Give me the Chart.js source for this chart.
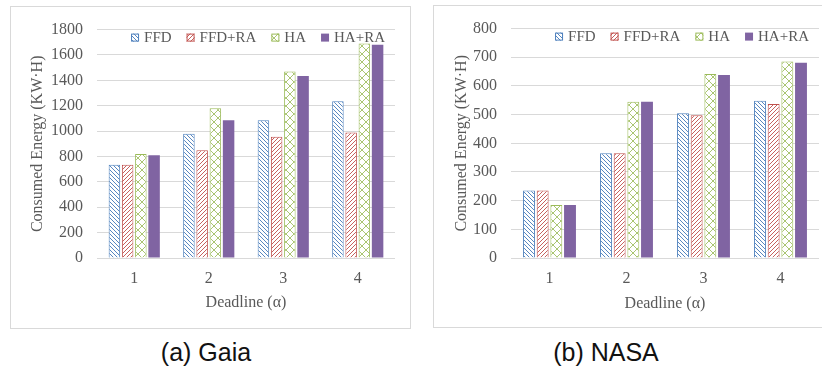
<!DOCTYPE html>
<html>
<head>
<meta charset="utf-8">
<script src="https://cdn.jsdelivr.net/npm/chart.js@4.4.1/dist/chart.umd.min.js"></script>
<style>
    body { margin: 0; width: 822px; height: 376px; background: #fff; position: relative; overflow: hidden; }
    .frame { position: absolute; border: 1px solid #d9d9d9; box-sizing: border-box; }
    canvas { position: absolute; }
    .cap { position: absolute; top: 337px; width: 200px; height: 30px; line-height: 30px; text-align: center;
           font-family: "Liberation Sans", Arial, sans-serif; font-size: 25px; color: #111; }
</style>
</head>
<body>
<div class="frame" style="left:10px;top:6px;width:401px;height:323px"></div>
<div class="frame" style="left:433px;top:5px;width:400px;height:323px"></div>
<canvas id="gaia" width="400" height="312" style="left:10px;top:6px"></canvas>
<canvas id="nasa" width="389" height="322" style="left:433px;top:5px"></canvas>
<div class="cap" style="left:106px">(a) Gaia</div>
<div class="cap" style="left:506px">(b) NASA</div>

<script>
'use strict';

// data
const deadlines = ['1', '2', '3', '4'];
const seriesNames = ['FFD', 'FFD+RA', 'HA', 'HA+RA'];

const gaiaFFD = [735, 980, 1085, 1235];
const gaiaFFDRA = [735, 850, 955, 990];
const gaiaHA = [820, 1180, 1470, 1690];
const gaiaHARA = [810, 1085, 1435, 1680];

const nasaFFD = [235, 365, 505, 548];
const nasaFFDRA = [235, 365, 498, 537];
const nasaHA = [185, 545, 642, 685];
const nasaHARA = [185, 545, 638, 681];

const gaiaMax = 1800, gaiaStep = 200;
const nasaMax = 800, nasaStep = 100;

const textGray = '#595959';
const serif = '"Liberation Serif", "Times New Roman", serif';

/******************** */
// fill patterns

const makePattern = function (color, kind) {
    const s = kind === 'cross' ? 8 : 4;
    const c = document.createElement('canvas');
    c.width = s;
    c.height = s;
    const g = c.getContext('2d');
    g.fillStyle = '#fff';
    g.fillRect(0, 0, s, s);
    g.strokeStyle = color;
    g.lineWidth = 1;
    g.beginPath();
    if (kind === 'back' || kind === 'cross') {
        g.moveTo(-1, -1); g.lineTo(s + 1, s + 1);
        g.moveTo(-1, s - 1); g.lineTo(1, s + 1);
        g.moveTo(s - 1, -1); g.lineTo(s + 1, 1);
    }
    if (kind === 'fwd' || kind === 'cross') {
        g.moveTo(-1, s + 1); g.lineTo(s + 1, -1);
        g.moveTo(-1, 1); g.lineTo(1, -1);
        g.moveTo(s - 1, s + 1); g.lineTo(s + 1, s - 1);
    }
    g.stroke();
    return g.createPattern(c, 'repeat');
};

const blue = '#4F81BD', red = '#C0504D', green = '#9BBB59', purple = '#8064A2';
const fills = [
    makePattern('rgba(79,129,189,0.95)', 'back'),
    makePattern('rgba(192,80,77,0.9)', 'fwd'),
    makePattern('rgba(155,187,89,0.85)', 'cross'),
    purple,
];
const edges = [blue, red, green, purple];

/******************** */
// legend drawn over the plot area, top right

const overlayLegend = {
    id: 'overlayLegend',
    afterDraw(chart, args, o) {
        const { ctx, chartArea } = chart;
        ctx.save();
        ctx.font = `15px ${serif}`;
        ctx.textBaseline = 'middle';
        const sets = chart.data.datasets;
        const widths = sets.map(d => o.box + o.gap + ctx.measureText(d.label).width);
        const total = widths.reduce((a, b) => a + b, 0) + o.spacing * (sets.length - 1);
        let x = chartArea.right - o.right - total;
        const y = chartArea.top + o.dy;
        sets.forEach((d, i) => {
            ctx.fillStyle = d.backgroundColor;
            ctx.fillRect(x, y - o.box / 2, o.box, o.box);
            if (d.borderWidth) {
                ctx.strokeStyle = d.borderColor;
                ctx.lineWidth = 1;
                ctx.strokeRect(x + 0.5, y - o.box / 2 + 0.5, o.box - 1, o.box - 1);
            }
            ctx.fillStyle = textGray;
            ctx.fillText(d.label, x + o.box + o.gap, y);
            x += widths[i] + o.spacing;
        });
        ctx.restore();
    },
};

/******************** */
// chart builder

const makeDatasets = function (rows) {
    return rows.map((vals, i) => ({
        label: seriesNames[i],
        data: vals,
        backgroundColor: fills[i],
        borderColor: edges[i],
        borderWidth: i === 3 ? 0 : 1,
        categoryPercentage: 0.71,
        barPercentage: 0.87,
    }));
};

const buildChart = function (id, rows, max, step, geo) {
    const ctx = document.getElementById(id).getContext('2d');
    return new Chart(ctx, {
        type: 'bar',
        data: { labels: deadlines, datasets: makeDatasets(rows) },
        plugins: [overlayLegend],
        options: {
            responsive: false,
            animation: false,
            devicePixelRatio: 1,
            layout: { padding: { top: geo.top, right: geo.right, left: 0, bottom: 0 } },
            plugins: {
                legend: { display: false },
                tooltip: { enabled: false },
                overlayLegend: { box: 8, gap: 5, spacing: 15, right: 10, dy: 8 },
            },
            scales: {
                x: {
                    grid: { display: false },
                    border: { display: false },
                    ticks: { color: textGray, font: { family: serif, size: 16 }, padding: geo.xPad, maxRotation: 0 },
                    title: {
                        display: true,
                        text: 'Deadline (α)',
                        color: textGray,
                        font: { family: serif, size: 16 },
                        padding: { top: 0, bottom: geo.xTitle },
                    },
                    afterFit: scale => { scale.height = geo.xH; },
                },
                y: {
                    min: 0,
                    max: max,
                    grid: { color: '#d9d9d9', lineWidth: 1, drawTicks: false },
                    border: { display: false },
                    ticks: {
                        stepSize: step,
                        color: textGray,
                        font: { family: serif, size: 16 },
                        padding: 14,
                        callback: v => String(v),
                    },
                    title: {
                        display: true,
                        text: 'Consumed Energy (KW·H)',
                        color: textGray,
                        font: { family: serif, size: 16 },
                        padding: { top: geo.yTitle, bottom: 0 },
                    },
                    afterFit: scale => { scale.width = geo.yW; },
                },
            },
        },
    });
};

buildChart('gaia', [gaiaFFD, gaiaFFDRA, gaiaHA, gaiaHARA], gaiaMax, gaiaStep,
    { top: 16, right: 15, yW: 87, xH: 60, xPad: 3, xTitle: 6, yTitle: 18 });

buildChart('nasa', [nasaFFD, nasaFFDRA, nasaHA, nasaHARA], nasaMax, nasaStep,
    { top: 17, right: 3, yW: 78, xH: 69, xPad: 3, xTitle: 14, yTitle: 19 });
</script>
</body>
</html>
